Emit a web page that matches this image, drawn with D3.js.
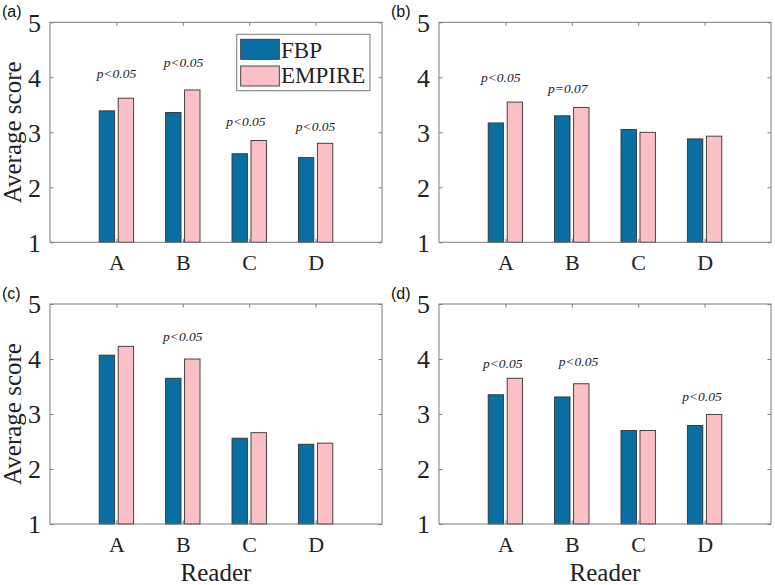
<!DOCTYPE html>
<html>
<head>
<meta charset="utf-8">
<script src="https://cdn.jsdelivr.net/npm/d3@7"></script>
<style>
  html, body { margin: 0; padding: 0; background: #fff; }
  svg { display: block; }
</style>
</head>
<body>
<svg id="chart" width="775" height="585"></svg>
<script>
// ---------- data ----------
const readers = ["A", "B", "C", "D"];
const seriesNames = ["FBP", "EMPIRE"];
const panelNames = ["(a)", "(b)", "(c)", "(d)"];
const yTicks = [1, 2, 3, 4, 5];

const fbpA = [3.39, 3.36, 2.61, 2.54];
const empireA = [3.62, 3.77, 2.85, 2.80];
const fbpB = [3.17, 3.30, 3.05, 2.88];
const empireB = [3.55, 3.45, 3.00, 2.93];
const fbpC = [4.07, 3.65, 2.56, 2.45];
const empireC = [4.23, 4.00, 2.66, 2.47];
const fbpD = [3.35, 3.31, 2.70, 2.79];
const empireD = [3.65, 3.55, 2.70, 2.99];

// significance labels: reader index, label text, label level (score units)
const notesA = [[0, "p<0.05", 3.99], [1, "p<0.05", 4.19], [2, "p<0.05", 3.11], [3, "p<0.05", 3.02]];
const notesB = [[0, "p<0.05", 3.91], [1, "p=0.07", 3.71]];
const notesC = [[1, "p<0.05", 4.32]];
const notesD = [[0, "p<0.05", 3.84], [1, "p<0.05", 3.87], [3, "p<0.05", 3.23]];
// small horizontal shifts of the labels (category units)
const shiftA = [0.0, 0.01, -0.05, 0.0];
const shiftB = [-0.07, -0.06];
const shiftC = [0.0];
const shiftD = [-0.04, 0.1, -0.04];

// ---------- layout ----------
const panels = [
  { name: panelNames[0], fbp: fbpA, emp: empireA, notes: notesA, shift: shiftA, x0: 50,    y0: 22.3, left: true,  bottom: false, legend: true },
  { name: panelNames[1], fbp: fbpB, emp: empireB, notes: notesB, shift: shiftB, x0: 439,   y0: 22.3, left: false, bottom: false, legend: false },
  { name: panelNames[2], fbp: fbpC, emp: empireC, notes: notesC, shift: shiftC, x0: 50,    y0: 304,  left: true,  bottom: true,  legend: false },
  { name: panelNames[3], fbp: fbpD, emp: empireD, notes: notesD, shift: shiftD, x0: 439,   y0: 304,  left: false, bottom: true,  legend: false }
];
const W = 332, H = 220;
const colFBP = "#0b6ea3", colEMP = "#fac0c5";
const edge = "#333", axisCol = "#7a7a7a";
const serif = "'Liberation Serif', 'Times New Roman', serif";
const sans = "'Liberation Sans', Arial, sans-serif";

const svg = d3.select("#chart");

panels.forEach(p => {
  const g = svg.append("g").attr("transform", `translate(${p.x0},${p.y0})`);
  const x = d3.scaleLinear().domain([0, 5]).range([0, W]);
  const y = d3.scaleLinear().domain([1, 5]).range([H, 0]);
  const bw = x(0.232) - x(0);
  const off = x(0.143) - x(0);

  // bars
  const rows = readers.map((r, i) => ({ r, i, f: p.fbp[i], e: p.emp[i] }));
  g.selectAll("rect.fbp").data(rows).enter().append("rect")
    .attr("x", d => x(d.i + 1) - off - bw / 2)
    .attr("y", d => y(d.f))
    .attr("width", bw).attr("height", d => y(1) - y(d.f))
    .attr("fill", colFBP).attr("stroke", edge).attr("stroke-width", 0.9);
  g.selectAll("rect.emp").data(rows).enter().append("rect")
    .attr("x", d => x(d.i + 1) + off - bw / 2)
    .attr("y", d => y(d.e))
    .attr("width", bw).attr("height", d => y(1) - y(d.e))
    .attr("fill", colEMP).attr("stroke", edge).attr("stroke-width", 0.9);

  // axes (ticks inward, mirrored)
  const tl = 3.5;
  const yAx = g.append("g").call(d3.axisLeft(y).tickValues(yTicks).tickSize(-tl).tickPadding(9).tickFormat(d3.format("d")));
  const yAxR = g.append("g").attr("transform", `translate(${W},0)`).call(d3.axisRight(y).tickValues(yTicks).tickSize(-tl).tickFormat(""));
  const xAx = g.append("g").attr("transform", `translate(0,${H})`).call(d3.axisBottom(x).tickValues([1, 2, 3, 4]).tickSize(-tl).tickPadding(12).tickFormat(d => readers[d - 1]));
  const xAxT = g.append("g").call(d3.axisTop(x).tickValues([1, 2, 3, 4]).tickSize(-tl).tickFormat(""));
  [yAx, yAxR, xAx, xAxT].forEach(a => {
    a.select(".domain").remove();
    a.attr("font-family", serif);
    a.selectAll("line").attr("stroke", axisCol);
  });
  yAx.selectAll("text").attr("font-family", serif).attr("font-size", 26).attr("fill", "#222").attr("dy", "0.34em");
  xAx.selectAll("text").attr("font-family", serif).attr("font-size", 22).attr("fill", "#222").attr("dy", "0.71em");

  g.append("rect").attr("x", 0).attr("y", 0).attr("width", W).attr("height", H)
    .attr("fill", "none").attr("stroke", axisCol).attr("stroke-width", 1);

  // significance notes
  g.selectAll("text.note").data(p.notes).enter().append("text")
    .attr("x", (d, k) => x(d[0] + 1 + p.shift[k]))
    .attr("y", d => y(d[2]))
    .attr("text-anchor", "middle")
    .attr("font-family", serif).attr("font-style", "italic").attr("font-size", 13.5)
    .attr("fill", "#222")
    .text(d => d[1]);

  // panel label
  svg.append("text").attr("x", p.x0 - 48).attr("y", p.y0 - 5)
    .attr("font-family", sans).attr("font-size", 16).attr("fill", "#111")
    .text(p.name);

  if (p.left) {
    g.append("text")
      .attr("transform", `translate(${-29},${H / 2}) rotate(-90)`)
      .attr("text-anchor", "middle")
      .attr("font-family", serif).attr("font-size", 25).attr("fill", "#222")
      .text("Average score");
  }
  if (p.bottom) {
    g.append("text")
      .attr("x", W / 2).attr("y", H + 57)
      .attr("text-anchor", "middle")
      .attr("font-family", serif).attr("font-size", 25).attr("fill", "#222")
      .text("Reader");
  }

  if (p.legend) {
    const lg = g.append("g").attr("transform", `translate(${W - 12 - 133.3},12)`);
    lg.append("rect").attr("width", 133.3).attr("height", 56.4)
      .attr("fill", "#fff").attr("stroke", axisCol).attr("stroke-width", 1);
    const cols = [colFBP, colEMP];
    seriesNames.forEach((s, k) => {
      lg.append("rect").attr("x", 4).attr("y", 5 + k * 26.7).attr("width", 38.6).attr("height", 20)
        .attr("fill", cols[k]).attr("stroke", edge).attr("stroke-width", 0.9);
      lg.append("text").attr("x", 44.3).attr("y", 24 + k * 25)
        .attr("font-family", serif).attr("font-size", 23).attr("fill", "#222")
        .text(s);
    });
  }
});
</script>
</body>
</html>
